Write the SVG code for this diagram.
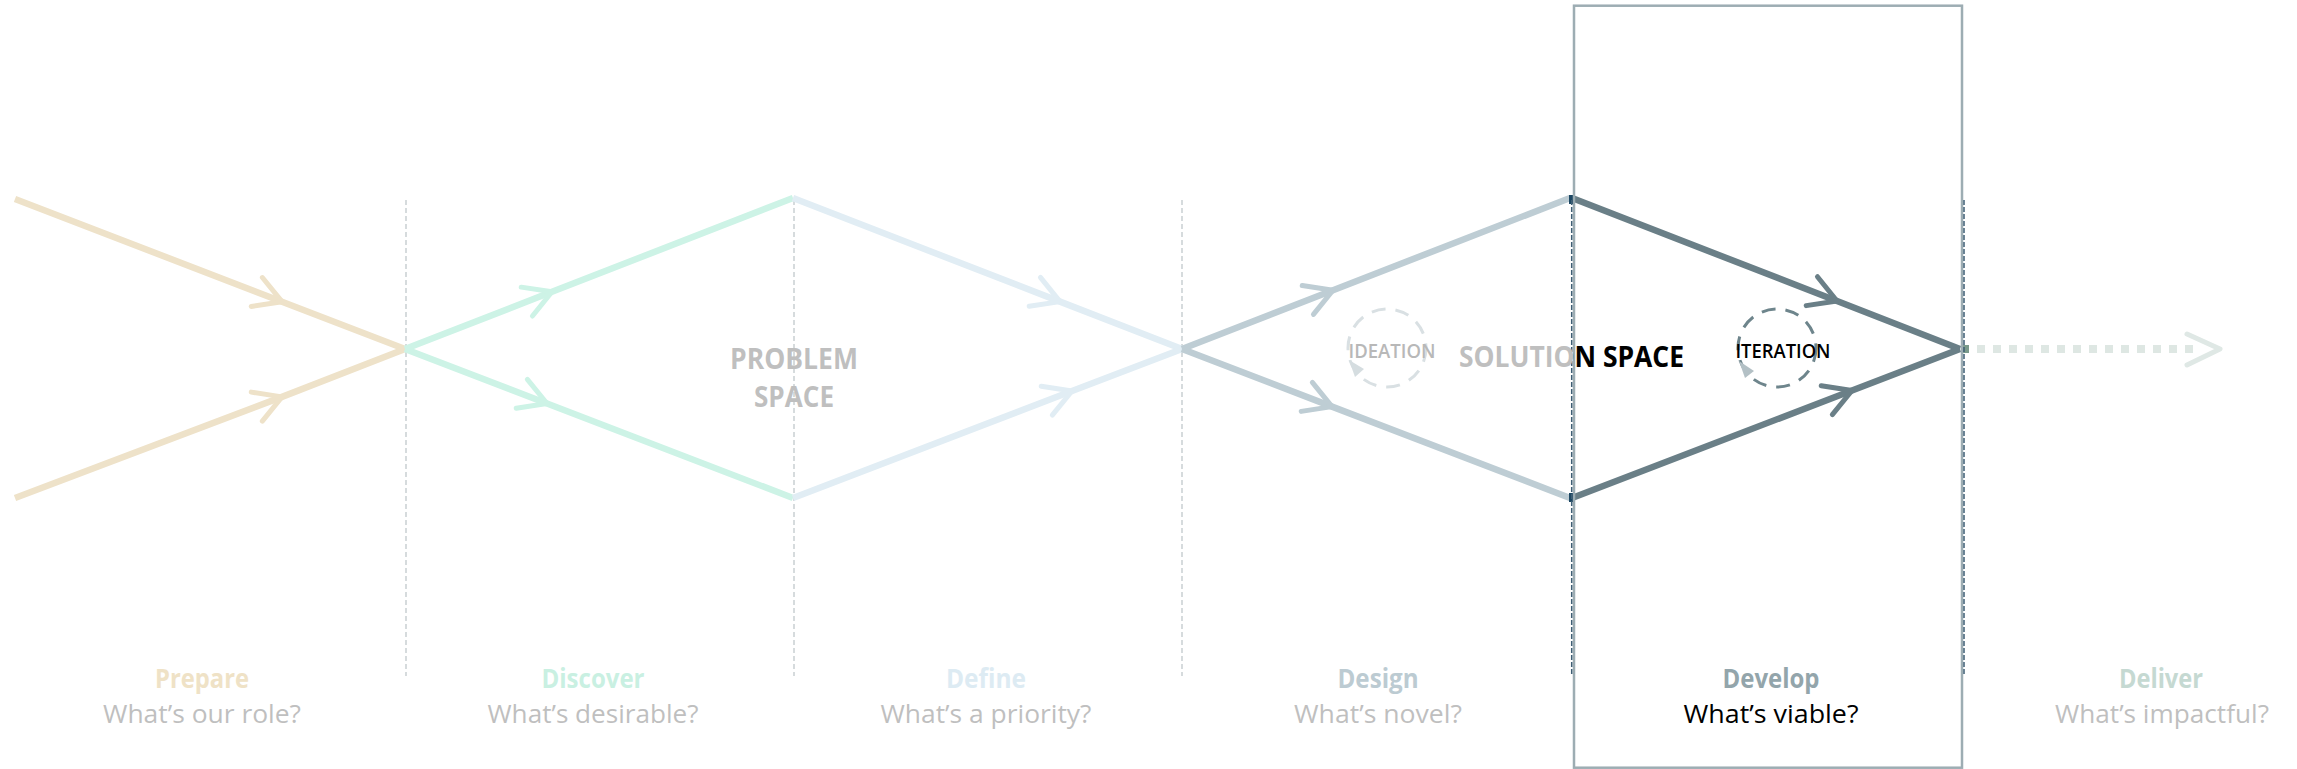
<svg xmlns="http://www.w3.org/2000/svg" width="2297" height="769" viewBox="0 0 2297 769">
  <style>
    .guide { stroke: #C9CFD2; stroke-width: 1.5; stroke-dasharray: 5 3; fill: none; }
    .guide-dark { stroke: #3E5E74; stroke-width: 1.5; stroke-dasharray: 5 2; fill: none; }
    .flow { fill: none; stroke-width: 6.5; stroke-linecap: butt; }
    .chev { fill: none; stroke-width: 5; stroke-linecap: round; stroke-linejoin: round; }
    .title { font-family: "Open Sans", "Liberation Sans", sans-serif; font-weight: 700; font-size: 26px; text-anchor: middle; }
    .question { font-family: "Open Sans", "Liberation Sans", sans-serif; font-weight: 400; font-size: 26px; text-anchor: middle; fill: #BFBFBF; }
    .question.active { fill: #000000; }
    .space { font-family: "Open Sans", "Liberation Sans", sans-serif; font-weight: 700; font-size: 28px; text-anchor: middle; }
    .loop { font-family: "Open Sans", "Liberation Sans", sans-serif; font-weight: 600; font-size: 19px; text-anchor: middle; }
  </style>
  <defs>
    <marker id="chev-prepare" markerUnits="userSpaceOnUse" orient="auto" markerWidth="40" markerHeight="40" viewBox="-35 -20 40 40" refX="0" refY="0" overflow="visible">
      <path class="chev" d="M-27,-15.5 L0,0 L-27,15.5" stroke="#EEE2C9"/>
    </marker>
    <marker id="chev-discover" markerUnits="userSpaceOnUse" orient="auto" markerWidth="40" markerHeight="40" viewBox="-35 -20 40 40" refX="0" refY="0" overflow="visible">
      <path class="chev" d="M-27,-15.5 L0,0 L-27,15.5" stroke="#CDF3E6"/>
    </marker>
    <marker id="chev-define" markerUnits="userSpaceOnUse" orient="auto" markerWidth="40" markerHeight="40" viewBox="-35 -20 40 40" refX="0" refY="0" overflow="visible">
      <path class="chev" d="M-27,-15.5 L0,0 L-27,15.5" stroke="#E1EDF4"/>
    </marker>
    <marker id="chev-design" markerUnits="userSpaceOnUse" orient="auto" markerWidth="40" markerHeight="40" viewBox="-35 -20 40 40" refX="0" refY="0" overflow="visible">
      <path class="chev" d="M-27,-15.5 L0,0 L-27,15.5" stroke="#BECDD4"/>
    </marker>
    <marker id="chev-develop" markerUnits="userSpaceOnUse" orient="auto" markerWidth="40" markerHeight="40" viewBox="-35 -20 40 40" refX="0" refY="0" overflow="visible">
      <path class="chev" d="M-27,-15.5 L0,0 L-27,15.5" stroke="#6A7F87"/>
    </marker>
    <clipPath id="frame-inside">
      <rect x="1573" y="0" width="392" height="769"/>
    </clipPath>
  </defs>

  <rect width="2297" height="769" fill="#FFFFFF"/>

  <!-- phase boundaries -->
  <g id="guides">
    <line class="guide" x1="406" y1="200" x2="406" y2="676"/>
    <line class="guide" x1="794" y1="200" x2="794" y2="676"/>
    <line class="guide" x1="1182" y1="200" x2="1182" y2="676"/>
  </g>

  <!-- double-diamond flow lines -->
  <g id="connectors">
    <path class="flow" stroke="#EEE2C9" marker-mid="url(#chev-prepare)" d="M15,199 L282,301.7 L405,349"/>
    <path class="flow" stroke="#EEE2C9" marker-mid="url(#chev-prepare)" d="M15,498 L282,396.9 L405,349"/>
    <path class="flow" stroke="#CDF3E6" marker-mid="url(#chev-discover)" d="M405,349 L552,291.8 L793,198"/>
    <path class="flow" stroke="#CDF3E6" marker-mid="url(#chev-discover)" d="M405,349 L547,403.5 L793,498"/>
    <path class="flow" stroke="#E1EDF4" marker-mid="url(#chev-define)" d="M793,198 L1060,301.6 L1182,349"/>
    <path class="flow" stroke="#E1EDF4" marker-mid="url(#chev-define)" d="M793,498 L1072,391 L1182,349"/>
    <path class="flow" stroke="#BECDD4" marker-mid="url(#chev-design)" d="M1182,349 L1333,290.2 L1570,198"/>
    <path class="flow" stroke="#BECDD4" marker-mid="url(#chev-design)" d="M1182,349 L1332,406.6 L1570,498"/>
    <path class="flow" stroke="#6A7F87" stroke-width="7.5" marker-mid="url(#chev-develop)" d="M1572,198 L1837,301 L1960,349"/>
    <path class="flow" stroke="#6A7F87" stroke-width="7.5" marker-mid="url(#chev-develop)" d="M1572,498 L1852,390.5 L1960,349"/>
    <rect x="1569" y="195" width="4" height="9" fill="#1D4763"/>
    <rect x="1569" y="493" width="4" height="9" fill="#1D4763"/>
    <!-- deliver: dotted outflow -->
    <rect x="1963" y="345" width="6" height="8" fill="#7A9A8B"/>
    <line x1="1977" y1="349" x2="2193" y2="349" stroke="#DEE7E3" stroke-width="8" stroke-dasharray="8 8"/>
    <polyline class="chev" points="2187,334 2220,349 2187,365" stroke="#DFE8E5"/>
  </g>

  <!-- develop focus frame -->
  <g id="develop-frame">
    <rect x="1574" y="5.7" width="388" height="762" fill="none" stroke="#9DADB3" stroke-width="2.5"/>
    <line class="guide-dark" x1="1571.7" y1="200" x2="1571.7" y2="676"/>
    <line class="guide-dark" x1="1964" y1="200" x2="1964" y2="676"/>
  </g>

  <g id="problem-space">
    <text class="space" fill="#BFBFBF" x="794" y="369" textLength="128" lengthAdjust="spacingAndGlyphs">PROBLEM</text>
    <text class="space" fill="#BFBFBF" x="794" y="407" textLength="80" lengthAdjust="spacingAndGlyphs">SPACE</text>
  </g>

  <g id="solution-space">
    <text class="space" fill="#BFBFBF" x="1571.5" y="367" textLength="225" lengthAdjust="spacingAndGlyphs">SOLUTION SPACE</text>
    <text class="space" fill="#000000" x="1571.5" y="367" textLength="225" lengthAdjust="spacingAndGlyphs" clip-path="url(#frame-inside)">SOLUTION SPACE</text>
  </g>

  <g id="ideation">
    <circle cx="1387" cy="348" r="39" fill="none" stroke="#D9E0E3" stroke-width="3" stroke-dasharray="14 10"/>
    <polygon points="1349,360 1364,369 1355,377" fill="#D5DDE0"/>
    <text class="loop" fill="#B8B8B8" x="1392" y="358" textLength="87" lengthAdjust="spacingAndGlyphs">IDEATION</text>
  </g>

  <g id="iteration">
    <circle cx="1777" cy="348" r="39" fill="none" stroke="#6E858C" stroke-width="3" stroke-dasharray="14 10"/>
    <polygon points="1739,361 1754,371 1745,378" fill="#B3C0C5"/>
    <text class="loop" fill="#000000" x="1783" y="358" textLength="95" lengthAdjust="spacingAndGlyphs">ITERATION</text>
  </g>

  <!-- phase labels -->
  <g id="phase-prepare">
    <text class="title" fill="#EFE2C6" x="202" y="688" textLength="94" lengthAdjust="spacingAndGlyphs">Prepare</text>
    <text class="question" x="202" y="723" textLength="198" lengthAdjust="spacingAndGlyphs">What’s our role?</text>
  </g>
  <g id="phase-discover">
    <text class="title" fill="#C9F0E2" x="593" y="688" textLength="103" lengthAdjust="spacingAndGlyphs">Discover</text>
    <text class="question" x="593" y="723" textLength="211" lengthAdjust="spacingAndGlyphs">What’s desirable?</text>
  </g>
  <g id="phase-define">
    <text class="title" fill="#DDEBF3" x="986" y="688" textLength="80" lengthAdjust="spacingAndGlyphs">Define</text>
    <text class="question" x="986" y="723" textLength="211" lengthAdjust="spacingAndGlyphs">What’s a priority?</text>
  </g>
  <g id="phase-design">
    <text class="title" fill="#BCCBD2" x="1378" y="688" textLength="81" lengthAdjust="spacingAndGlyphs">Design</text>
    <text class="question" x="1378" y="723" textLength="168" lengthAdjust="spacingAndGlyphs">What’s novel?</text>
  </g>
  <g id="phase-develop">
    <text class="title" fill="#93A5AB" x="1771" y="688" textLength="97" lengthAdjust="spacingAndGlyphs">Develop</text>
    <text class="question active" x="1771" y="723" textLength="175" lengthAdjust="spacingAndGlyphs">What’s viable?</text>
  </g>
  <g id="phase-deliver">
    <text class="title" fill="#C5D9D2" x="2161" y="688" textLength="84" lengthAdjust="spacingAndGlyphs">Deliver</text>
    <text class="question" x="2162" y="723" textLength="214" lengthAdjust="spacingAndGlyphs">What’s impactful?</text>
  </g>
</svg>
